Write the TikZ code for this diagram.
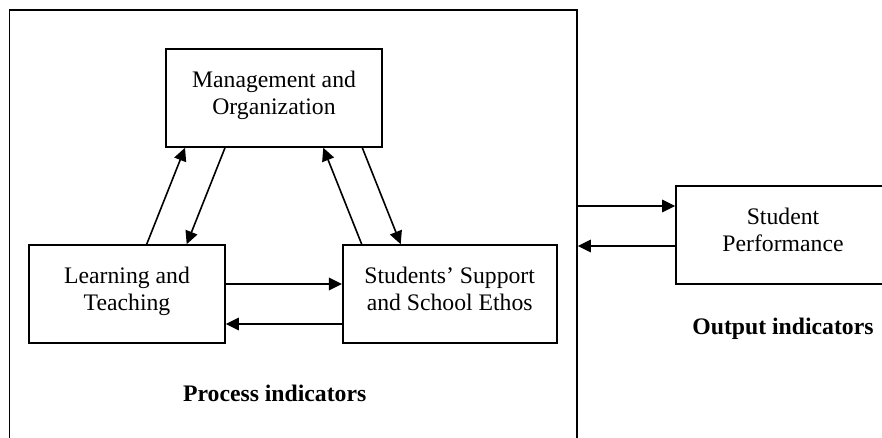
\documentclass[tikz,border=0pt]{standalone}
\usepackage{fontspec}
\setmainfont{Liberation Serif}
\usetikzlibrary{arrows.meta}
% uniform line height so two-line labels sit the same way in every box
\newcommand\lnstrut{\rule[-10pt]{0pt}{26pt}}
\begin{document}
\begin{tikzpicture}[x=1pt,y=-1pt,
  box/.style={draw, line width=1.6pt, rectangle, inner sep=0pt, align=center,
              font=\fontsize{23.7}{27}\selectfont},
  link/.style={line width=1.6pt, -{Triangle[length=13pt,width=12.5pt]}},
  caption/.style={font=\fontsize{23.7}{27}\selectfont\bfseries, anchor=base, inner sep=0pt}]
\useasboundingbox (0,0) rectangle (882,437);
\clip (0,0) rectangle (882,437);

% enclosing frame of the process indicators
\node[box, minimum width=567.5pt, minimum height=440pt] (process) at (293.25,230) {};

% process boxes
\node[box, minimum width=216pt, minimum height=98pt] (mgmt) at (274,98)
  {\lnstrut Management and\\\lnstrut Organization};
\node[box, minimum width=196pt, minimum height=98pt] (learn) at (127,294)
  {\lnstrut Learning and\\\lnstrut Teaching};
\node[box, minimum width=214pt, minimum height=98pt] (support) at (449.7,294)
  {\lnstrut Students’ Support\\\lnstrut and School Ethos};

% output box
\node[box, minimum width=214pt, minimum height=98pt] (perf) at (783,235)
  {\lnstrut Student\\\lnstrut Performance};

% captions
\node[caption] (proclabel) at (274.7,401.7) {Process indicators};
\node[caption] (outlabel) at (783,334) {Output indicators};

% links between the process boxes
\draw[link] ([xshift=19.7pt]learn.north) -- ([xshift=-89pt]mgmt.south);
\draw[link] ([xshift=-49pt]mgmt.south) -- ([xshift=59.7pt]learn.north);
\draw[link] ([xshift=-88pt]support.north) -- ([xshift=49.3pt]mgmt.south);
\draw[link] ([xshift=88.3pt]mgmt.south) -- ([xshift=-49pt]support.north);
\draw[link] ([yshift=10pt]learn.east) -- ([yshift=10pt]support.west);
\draw[link] ([yshift=-30pt]support.west) -- ([yshift=-30pt]learn.east);

% links between process and output
\draw[link] ([yshift=24pt]process.east) -- ([yshift=29pt]perf.west);
\draw[link] ([yshift=-11pt]perf.west) -- ([yshift=-16pt]process.east);
\end{tikzpicture}
\end{document}
